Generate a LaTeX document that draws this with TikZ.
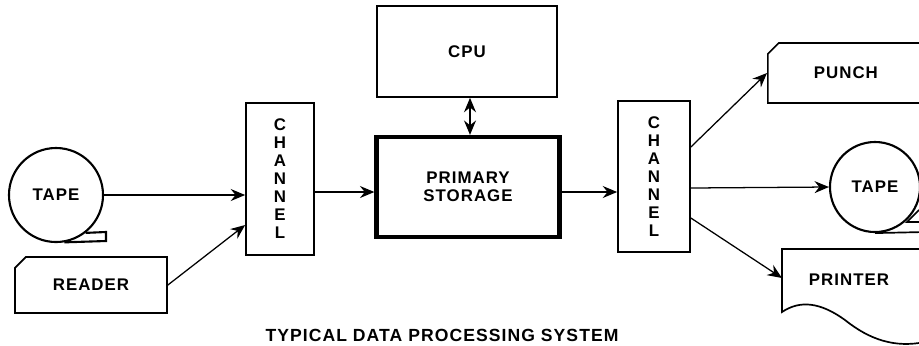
\documentclass[tikz,border=0pt]{standalone}
\usepackage{fontspec}
\setmainfont{Liberation Sans}[LetterSpace=6]
\usetikzlibrary{arrows.meta,shapes.misc}

\begin{document}
\begin{tikzpicture}[x=0.025cm, y=-0.025cm, font=\bfseries\fontsize{12}{13}\selectfont,
	box/.style={draw, line width=1.2pt, rectangle, align=center},
	chanbox/.style={box, minimum width=1.7cm, minimum height=3.8cm, font=\bfseries\fontsize{12}{12.8}\selectfont},
	cutbox/.style={draw, line width=1.2pt, chamfered rectangle, chamfered rectangle corners=north west, chamfered rectangle xsep=0.15cm},
	tape/.style={draw, circle, line width=1.5pt, inner sep=0pt},
	flow/.style={-{Stealth[length=0.36cm, width=0.3cm, inset=0.12cm]}, line width=0.9pt},
	dflow/.style={{Stealth[length=0.36cm, width=0.3cm, inset=0.12cm]}-{Stealth[length=0.36cm, width=0.3cm, inset=0.12cm]}, line width=0.9pt}]
					% Paths, nodes and wires:
					\useasboundingbox (0,0) rectangle (919,345);
					\node[tape, minimum size=2.35cm](tapein) at (56,195){TAPE};
					\draw[line width=1.5pt] (tapein.-80) -- (106,241) -- (106,232) -- (tapein.-52);
					\node[cutbox, minimum width=3.8cm, minimum height=1.4cm](reader) at (91,285){READER};
					\node[chanbox](chanin) at (280,179){C\\H\\A\\N\\N\\E\\L};
					\node[box, minimum width=4.5cm, minimum height=2.275cm](cpu) at (467,51.5){CPU};
					\node[box, line width=3pt, minimum width=4.575cm, minimum height=2.5cm](storage) at (468,187){PRIMARY\\STORAGE};
					\node[chanbox, minimum width=1.8cm, minimum height=3.775cm](chanout) at (654,176.5){C\\H\\A\\N\\N\\E\\L};
					\node[cutbox, anchor=west, inner xsep=1cm, text width=2.8cm, align=left, minimum height=1.5cm](punch) at (767,73){PUNCH};
					\node[tape, minimum size=2.25cm](tapeout) at (875,187){TAPE};
					\draw[line width=1.2pt] (tapeout.south) -- (925,232);
					\draw[line width=1.2pt] (919,222) -- (907,222) -- (919,210);
					\draw[line width=1.2pt] (925,249) -- (782,249) -- (782,312) .. controls (800,300) and (820,302) .. (845,320) .. controls (870,340) and (895,348) .. (925,342);
					\coordinate (printerin) at (782,278);
					\node(printer) at (849,280){PRINTER};
					\draw[flow] (tapein.east) -- (tapein.east -| chanin.west);
					\draw[flow] (reader.east) -- (chanin.west |- 0,225);
					\draw[flow] (chanin.east |- 0,192) -- (storage.west |- 0,192);
					\draw[dflow] (cpu.south -| 470,0) -- (storage.north -| 470,0);
					\draw[flow] (storage.east |- 0,192) -- (chanout.west |- 0,192);
					\draw[flow] (chanout.east |- 0,147) -- (punch.west);
					\draw[flow] (chanout.east |- 0,188) -- (tapeout.west);
					\draw[flow] (chanout.east |- 0,218) -- (printerin);
					\node[font=\bfseries\fontsize{12.5}{13}\selectfont](title) at (442,335){TYPICAL DATA PROCESSING SYSTEM};
				\end{tikzpicture}
\end{document}
